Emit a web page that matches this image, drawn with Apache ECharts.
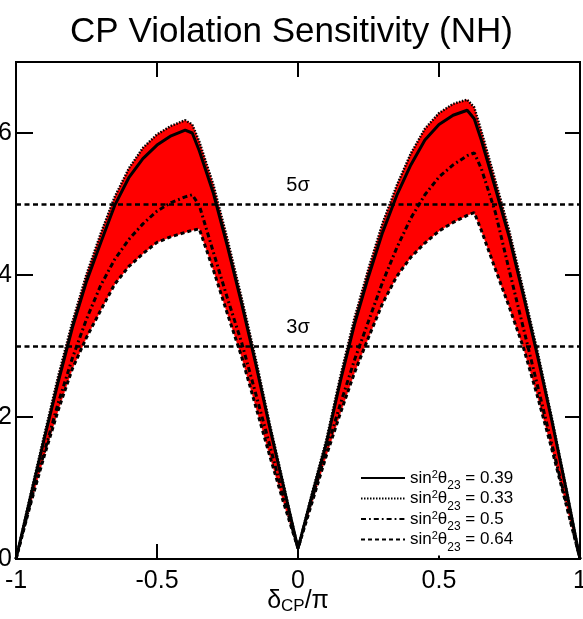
<!DOCTYPE html>
<html>
<head>
<meta charset="utf-8">
<script src="https://cdn.jsdelivr.net/npm/echarts@6/dist/echarts.min.js"></script>
<style>
html,body{margin:0;padding:0;background:#fff;}
#c{width:583px;height:619px;}
</style>
</head>
<body>
<div id="c"></div>
<script>
// delta_CP / pi sample points
const deltaCP = [-1, -0.95, -0.9, -0.85, -0.8, -0.75, -0.7, -0.65, -0.6, -0.55, -0.5, -0.45, -0.4, -0.375, -0.35, -0.3, -0.25, -0.2, -0.15, -0.1, -0.05, 0, 0.05, 0.1, 0.15, 0.2, 0.25, 0.3, 0.35, 0.4, 0.45, 0.5, 0.55, 0.6, 0.625, 0.65, 0.7, 0.75, 0.8, 0.85, 0.9, 0.95, 1];
// sin^2 theta23 = 0.39 (solid)
const s039 = [0, 0.85, 1.69, 2.5, 3.26, 3.91, 4.45, 4.98, 5.37, 5.64, 5.83, 5.96, 6.04, 6.0, 5.75, 5.15, 4.4, 3.6, 2.75, 1.85, 1.0, 0.15, 0.9, 1.62, 2.5, 3.3, 3.98, 4.6, 5.12, 5.55, 5.9, 6.12, 6.25, 6.32, 6.2, 5.9, 5.22, 4.52, 3.7, 2.85, 1.95, 1.0, 0];
// sin^2 theta23 = 0.33 (dotted)
const s033 = [0, 0.88, 1.74, 2.58, 3.34, 4.01, 4.58, 5.1, 5.5, 5.79, 5.98, 6.1, 6.18, 6.12, 5.88, 5.27, 4.5, 3.68, 2.82, 1.9, 1.03, 0.15, 0.93, 1.67, 2.57, 3.39, 4.09, 4.73, 5.26, 5.71, 6.06, 6.28, 6.41, 6.47, 6.36, 6.03, 5.33, 4.61, 3.77, 2.91, 1.99, 1.02, 0];
// sin^2 theta23 = 0.5 (dash-dot)
const s050 = [0, 0.78, 1.5, 2.2, 2.83, 3.38, 3.85, 4.22, 4.5, 4.72, 4.9, 5.02, 5.1, 5.13, 4.98, 4.32, 3.67, 3.05, 2.33, 1.6, 0.85, 0.15, 0.85, 1.52, 2.18, 2.8, 3.35, 3.9, 4.38, 4.8, 5.13, 5.38, 5.55, 5.68, 5.72, 5.5, 4.88, 4.05, 3.24, 2.43, 1.62, 0.81, 0];
// sin^2 theta23 = 0.64 (dashed)
const s064 = [0, 0.75, 1.45, 2.1, 2.68, 3.12, 3.5, 3.87, 4.12, 4.3, 4.46, 4.54, 4.6, 4.63, 4.65, 4.07, 3.45, 2.85, 2.15, 1.45, 0.78, 0.15, 0.8, 1.45, 2.05, 2.62, 3.12, 3.6, 3.98, 4.25, 4.45, 4.62, 4.74, 4.84, 4.88, 4.63, 4.08, 3.54, 2.97, 2.28, 1.55, 0.78, 0];
const seriesNames = ['0.39', '0.33', '0.5', '0.64'];
const sigmaLevels = [5, 3];
const sigmaLabels = ['5σ', '3σ'];
const xTicks = [-1, -0.5, 0, 0.5, 1];
const yTicks = [0, 2, 4, 6];

const curves = [s039, s033, s050, s064];
const lo = deltaCP.map((_, i) => Math.min(...curves.map(c => c[i])));
const hi = deltaCP.map((_, i) => Math.max(...curves.map(c => c[i])));
const pairs = arr => deltaCP.map((x, i) => [x, arr[i]]);

const FONT = 'Liberation Sans';
const chart = echarts.init(document.getElementById('c'), null, {renderer: 'canvas'});

const lineStyles = [
  {color: '#000', width: 3, type: 'solid'},
  {color: '#000', width: 2.5, type: [1.5, 1.5]},
  {color: '#000', width: 3, type: [5, 3, 1.8, 3]},
  {color: '#000', width: 3, type: [4, 3]}
];

const series = [];
series.push({
  type: 'custom',
  name: 'band',
  silent: true,
  z: 1,
  data: [[0, 0]],
  encode: {x: 0, y: 1},
  renderItem: function (params, api) {
    const pts = [];
    for (let i = 0; i < deltaCP.length; i++) pts.push(api.coord([deltaCP[i], hi[i]]));
    for (let i = deltaCP.length - 1; i >= 0; i--) pts.push(api.coord([deltaCP[i], lo[i]]));
    return {type: 'polygon', shape: {points: pts}, style: {fill: '#ff0000', stroke: '#ff0000', lineWidth: 0.5}};
  }
});
curves.forEach((c, k) => {
  series.push({
    type: 'line',
    name: seriesNames[k],
    data: pairs(c),
    symbol: 'none',
    z: 3 + k,
    lineStyle: lineStyles[k],
    itemStyle: {color: '#000'},
    animation: false
  });
});
series.push({
  type: 'line',
  name: 'sigma',
  data: [],
  z: 8,
  markLine: {
    silent: true,
    symbol: ['none', 'none'],
    animation: false,
    lineStyle: {color: '#000', width: 2.5, type: [5, 3.5]},
    label: {
      show: true,
      position: 'insideMiddleTop',
      distance: 9,
      color: '#000',
      fontFamily: FONT,
      fontSize: 20,
      formatter: p => p.name
    },
    data: sigmaLevels.map((v, i) => ({yAxis: v, name: sigmaLabels[i]}))
  }
});

const axisLabelStyle = {color: '#000', fontFamily: FONT, fontSize: 25};

chart.setOption({
  animation: false,
  backgroundColor: '#fff',
  title: {
    text: 'CP Violation Sensitivity (NH)',
    left: 'center',
    top: 10,
    textStyle: {color: '#000', fontFamily: FONT, fontSize: 35, fontWeight: 'normal'}
  },
  grid: {left: 16, right: 3, top: 62, bottom: 60, show: true, borderColor: '#000', borderWidth: 2, backgroundColor: 'transparent', containLabel: false, outerBoundsMode: 'none'},
  legend: {
    data: seriesNames,
    orient: 'vertical',
    left: 354,
    top: 465,
    padding: [4, 6, 2, 6],
    backgroundColor: '#fff',
    itemWidth: 44,
    itemHeight: 10,
    itemGap: -2.5,
    itemStyle: {opacity: 0, borderWidth: 0},
    formatter: name => '{a|sin}{sup|2}{a|θ}{sub|23}{a| = ' + name + '}',
    textStyle: {
      color: '#000',
      fontFamily: FONT,
      fontSize: 17,
      rich: {
        a: {fontFamily: FONT, fontSize: 17, lineHeight: 18, color: '#000'},
        sup: {fontFamily: FONT, fontSize: 11, lineHeight: 10, verticalAlign: 'top', color: '#000'},
        sub: {fontFamily: FONT, fontSize: 12, lineHeight: 9, verticalAlign: 'bottom', color: '#000', padding: [0, 0, -5, 0]}
      }
    }
  },
  xAxis: [{
    type: 'value',
    min: -1, max: 1, interval: 0.5,
    position: 'bottom',
    axisLine: {show: true, onZero: false, lineStyle: {color: '#000', width: 2}},
    axisTick: {show: true, inside: true, length: 15, lineStyle: {color: '#000', width: 2}},
    splitLine: {show: false},
    axisLabel: Object.assign({margin: 10, formatter: v => String(v)}, axisLabelStyle),
    name: '{d|δ}{s|CP}{d|/π}',
    nameLocation: 'middle',
    nameGap: 28,
    nameMoveOverlap: false,
    nameTextStyle: {
      color: '#000', fontFamily: FONT, fontSize: 25,
      rich: {
        d: {fontFamily: FONT, fontSize: 25, lineHeight: 28, color: '#000'},
        s: {fontFamily: FONT, fontSize: 17, lineHeight: 14, verticalAlign: 'bottom', color: '#000'}
      }
    }
  }, {
    type: 'value',
    min: -1, max: 1, interval: 0.5,
    position: 'top',
    axisLine: {show: true, onZero: false, lineStyle: {color: '#000', width: 2}},
    axisTick: {show: true, inside: true, length: 15, lineStyle: {color: '#000', width: 2}},
    axisLabel: {show: false},
    splitLine: {show: false}
  }],
  yAxis: [{
    type: 'value',
    min: 0, max: 7, interval: 2,
    position: 'left',
    axisLine: {show: true, onZero: false, lineStyle: {color: '#000', width: 2}},
    axisTick: {show: true, inside: true, length: 17, lineStyle: {color: '#000', width: 2}},
    splitLine: {show: false},
    axisLabel: Object.assign({margin: 4, showMaxLabel: false, formatter: v => (yTicks.indexOf(v) >= 0 ? String(v) : '')}, axisLabelStyle)
  }, {
    type: 'value',
    min: 0, max: 7, interval: 2,
    position: 'right',
    axisLine: {show: true, onZero: false, lineStyle: {color: '#000', width: 2}},
    axisTick: {show: true, inside: true, length: 15, lineStyle: {color: '#000', width: 2}},
    axisLabel: {show: false},
    splitLine: {show: false}
  }],
  series: series
});
</script>
</body>
</html>
